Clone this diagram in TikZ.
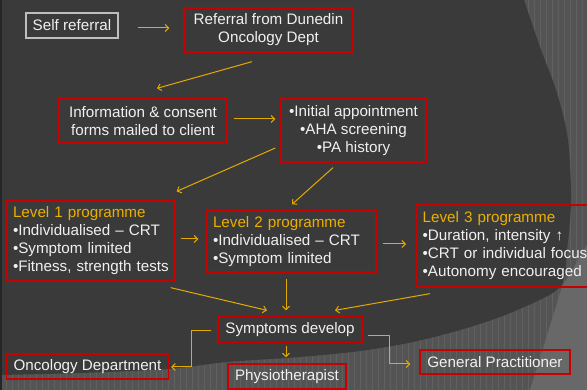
\documentclass[tikz,border=0pt]{standalone}
\usepackage{fontspec}
\setmainfont{Liberation Sans}
\usetikzlibrary{arrows.meta,calc}
\definecolor{gold}{RGB}{228,170,0}
\definecolor{headgold}{RGB}{236,176,0}
\definecolor{boxred}{RGB}{200,0,0}
\definecolor{txtw}{RGB}{240,240,240}
\definecolor{darkbg}{RGB}{58,58,58}
\definecolor{midbg}{RGB}{84,84,84}
\definecolor{gridbg}{RGB}{96,96,96}
\definecolor{lightbg}{RGB}{104,104,104}
\definecolor{selfgray}{RGB}{190,190,190}
\begin{document}
\begin{tikzpicture}[x=1pt,y=-1pt,
  box/.style={draw=boxred, line width=1.3pt, text=txtw, font=\fontsize{15.2}{18}\selectfont, inner sep=0pt, align=center},
  lbox/.style={box, align=left, inner xsep=6pt},
  arr/.style={draw=gold, line width=1pt, -{Straight Barb[length=3.5pt,width=7pt]}},
  hd/.style={text=headgold}]
\useasboundingbox (0,0) rectangle (587,390);
\clip (0,0) rectangle (587,390);
% background
\fill[midbg] (0,0) rectangle (587,390);
\draw[gridbg, line width=0.35pt, step=6] (0,0) grid (587,390);
\fill[lightbg] (587,245) -- (562,287) -- (530,390) -- (587,390) -- cycle;
\fill[darkbg] plot[smooth] coordinates {(524,0) (540,47) (557,93) (568,140) (571,200) (567,250) (560,287) (515,311) (467,328) (413,342) (360,351) (300,357) (227,362) (168,369) (80,373) (0,375)} -- (0,0) -- cycle;
\fill[black!85] (0,0) rectangle (2,390);
% nodes
\node[box, draw=selfgray, minimum width=92pt, minimum height=25pt] (self) at (72,25.5) {Self referral};
\node[box, minimum width=169pt, minimum height=44pt] (ref) at (268.5,30) {Referral from Dunedin\\Oncology Dept};
\node[box, minimum width=168pt, minimum height=44pt] (info) at (143,121) {Information \& consent\\forms mailed to client};
\node[box, minimum width=145pt, minimum height=63pt] (init) at (353.5,130.5) {•Initial appointment\\•AHA screening\\•PA history};
\node[lbox, minimum width=168pt, minimum height=80pt, text width=156pt] (l1) at (91,241) {\textcolor{headgold}{Level 1 programme}\\•Individualised – CRT\\•Symptom limited\\•Fitness, strength tests};
\node[lbox, minimum width=169pt, minimum height=61pt, text width=157pt] (l2) at (291.5,241.5) {\textcolor{headgold}{Level 2 programme}\\•Individualised – CRT\\•Symptom limited};
\node[lbox, anchor=west, minimum height=82pt, text width=176pt] (l3) at (416,246) {\textcolor{headgold}{Level 3 programme}\\•Duration, intensity ↑\\•CRT or individual focus\\•Autonomy encouraged};
\node[box, minimum width=144pt, minimum height=26pt] (sym) at (290,329.5) {Symptoms develop};
\node[box, minimum width=162pt, minimum height=25pt] (onc) at (87.5,366.5) {Oncology Department};
\node[box, minimum width=118pt, minimum height=25pt] (phys) at (287,376.5) {Physiotherapist};
\node[box, minimum width=150pt, minimum height=24pt] (gp) at (495,362) {General Practitioner};
% connectors
\draw[arr] ($(self.east)+(19,2.5)$) -- ($(ref.west)+(-14,-2)$);
\draw[arr] ($(ref.south)+(-16.5,9)$) -- ($(info.north)+(14,-10)$);
\draw[arr] ($(info.east)+(6,-2)$) -- ($(init.west)+(-5,-11.5)$);
\draw[arr] ($(init.west)+(-5,17.5)$) -- ($(l1.north east)+(1,-9)$);
\draw[arr] ($(init.south)+(-20.5,5)$) -- ($(l2.north)+(0.5,-6)$);
\draw[arr] ($(l1.east)+(5,-2)$) -- ($(l2.west)+(-8,-2.5)$);
\draw[arr] ($(l2.east)+(6,2.5)$) -- ($(l3.west)+(-10,-2)$);
\draw[arr] ($(l1.south east)+(-5,6)$) -- ($(sym.north)+(-23,-5.5)$);
\draw[arr] ($(l2.south)+(-5.5,6)$) -- ($(sym.north)+(-4,-5.5)$);
\draw[arr] ($(l3.south west)+(14,6)$) -- ($(sym.north)+(45,-5.5)$);
\draw[arr] ($(sym.west)+(-6,1.5)$) -- ++(-20,0) |- ($(onc.east)+(2,0.5)$);
\draw[arr] ($(sym.south)+(-4,2.5)$) -- ($(phys.north)+(-1,-6)$);
\draw[arr] ($(sym.east)+(5,6.5)$) -- ++(22,0) |- ($(gp.west)+(-9,2)$);
\end{tikzpicture}
\end{document}
